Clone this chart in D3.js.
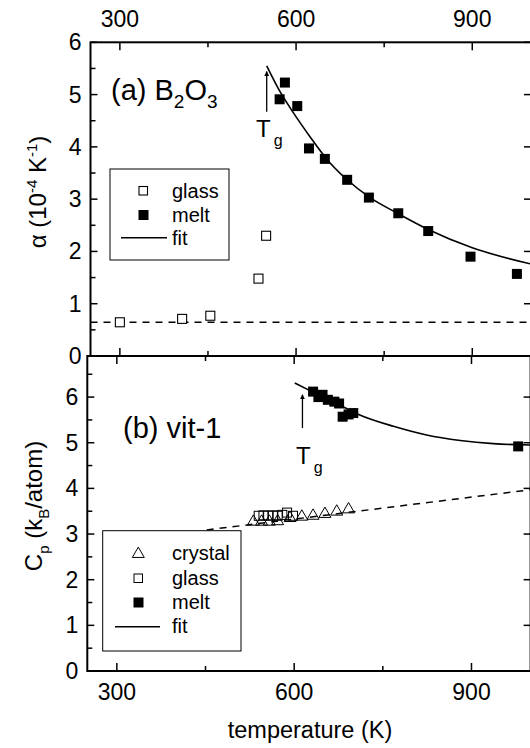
<!DOCTYPE html>
<html>
<head>
<meta charset="utf-8">
<script src="https://cdn.jsdelivr.net/npm/d3@7"></script>
<style>
  body { margin: 0; background: #fff; }
  svg { font-family: "Liberation Sans", Arial, sans-serif; }
</style>
</head>
<body>
<div id="chart"></div>
<script>
// Data (temperature in K)
var tempMajor = [300, 600, 900];
var tempMinor = [450, 750];
var alphaTicks = [0, 1, 2, 3, 4, 5, 6];
var alphaMinor = [0.5, 1.5, 2.5, 3.5, 4.5, 5.5];
var cpTicks = [0, 1, 2, 3, 4, 5, 6];
var cpMinor = [0.5, 1.5, 2.5, 3.5, 4.5, 5.5, 6.5];

// (a) B2O3, alpha in 1e-4 1/K
var b2o3Glass = [[300, 0.645], [406, 0.71], [454, 0.77], [536, 1.48], [549, 2.30]];
var b2o3Melt = [[572, 4.91], [581, 5.23], [602, 4.78], [622, 3.97], [649, 3.77], [687, 3.37],
                [724, 3.03], [774, 2.73], [825, 2.39], [897, 1.90], [976, 1.57]];
var b2o3Fit = [[550, 5.55], [573, 5.05], [595, 4.66], [624, 4.19], [652, 3.77], [686, 3.38],
               [726, 3.03], [771, 2.74], [825, 2.42], [900, 2.07], [1000, 1.76]];
var b2o3GlassLine = [[250, 0.645], [1000, 0.645]];
var b2o3Tg = [550, 4.67, 5.44];

// (b) vit-1, Cp in kB/atom
var vitCrystal = [[531, 3.27], [545, 3.27], [558, 3.27], [572, 3.28], [593, 3.35], [613, 3.38],
                  [632, 3.40], [652, 3.44], [672, 3.49], [692, 3.54]];
var vitGlass = [[540, 3.40], [548, 3.41], [556, 3.40], [564, 3.41], [572, 3.40], [580, 3.42],
                [588, 3.47], [598, 3.40]];
var vitMelt = [[632, 6.12], [641, 6.00], [648, 6.05], [657, 5.94], [668, 5.90], [676, 5.86],
               [682, 5.57], [692, 5.62], [700, 5.65], [979, 4.92]];
var vitFit = [[601, 6.31], [630, 6.12], [660, 5.93], [685, 5.77], [709, 5.62], [768, 5.36],
              [824, 5.17], [881, 5.05], [937, 4.98], [1000, 4.95]];
var vitCrystalLine = [[452, 3.09], [1000, 3.97]];
var vitTg = [614, 5.32, 6.05];

var W = 530, H = 748;

function draw() {
    var svg = d3.select("#chart").append("svg")
        .attr("width", W)
        .attr("height", H);

    var defs = svg.append("defs");
    defs.append("marker")
        .attr("id", "arrow")
        .attr("viewBox", "0 0 10 10")
        .attr("refX", 9).attr("refY", 5)
        .attr("markerWidth", 5).attr("markerHeight", 7)
        .attr("markerUnits", "userSpaceOnUse")
        .attr("orient", "auto")
        .append("path")
        .attr("d", "M0,0 L10,5 L0,10 Z")
        .attr("fill", "#000");

    // Scales
    var xa = d3.scaleLinear().domain([250, 1000]).range([90.5, 531]);
    var ya = d3.scaleLinear().domain([0, 6]).range([356, 42.3]);
    var xb = d3.scaleLinear().domain([250, 1000]).range([87.3, 530.6]);
    var yb = d3.scaleLinear().domain([0, 6.9]).range([671, 356]);

    // Panel (a)
    var pa = svg.append("g");
    panelFrame(pa, xa, ya, alphaTicks, alphaMinor);

    pa.append("path")
        .datum(b2o3GlassLine)
        .attr("d", d3.line().x(function (d) { return xa(d[0]); }).y(function (d) { return ya(d[1]); }))
        .attr("fill", "none").attr("stroke", "#000").attr("stroke-width", 1.5)
        .attr("stroke-dasharray", "7,6");

    pa.append("path")
        .datum(b2o3Fit)
        .attr("d", d3.line().curve(d3.curveMonotoneX)
            .x(function (d) { return xa(d[0]); }).y(function (d) { return ya(d[1]); }))
        .attr("fill", "none").attr("stroke", "#000").attr("stroke-width", 1.6);

    pa.selectAll("rect.glass").data(b2o3Glass).enter().append("rect")
        .attr("x", function (d) { return xa(d[0]) - 4.5; })
        .attr("y", function (d) { return ya(d[1]) - 4.5; })
        .attr("width", 9).attr("height", 9)
        .attr("fill", "#fff").attr("stroke", "#000").attr("stroke-width", 1.1);

    pa.selectAll("rect.melt").data(b2o3Melt).enter().append("rect")
        .attr("x", function (d) { return xa(d[0]) - 5; })
        .attr("y", function (d) { return ya(d[1]) - 5; })
        .attr("width", 10).attr("height", 10)
        .attr("fill", "#000");

    tgArrow(pa, xa(b2o3Tg[0]), ya(b2o3Tg[1]), ya(b2o3Tg[2]), 256, 137);

    var la = pa.append("text").attr("x", 111).attr("y", 100).attr("font-size", 29);
    la.append("tspan").text("(a) B");
    la.append("tspan").attr("dy", 8).attr("font-size", 19).text("2");
    la.append("tspan").attr("dy", -8).text("O");
    la.append("tspan").attr("dy", 8).attr("font-size", 19).text("3");

    // legend (a)
    var lga = pa.append("g");
    lga.append("rect").attr("x", 110).attr("y", 169).attr("width", 119).attr("height", 91)
        .attr("fill", "#fff").attr("stroke", "#000").attr("stroke-width", 1);
    lga.append("rect").attr("x", 139).attr("y", 186.5).attr("width", 8.5).attr("height", 8.5)
        .attr("fill", "#fff").attr("stroke", "#000").attr("stroke-width", 1.1);
    lga.append("rect").attr("x", 138.5).attr("y", 210).attr("width", 10).attr("height", 10)
        .attr("fill", "#000");
    lga.append("line").attr("x1", 121).attr("x2", 167).attr("y1", 237.7).attr("y2", 237.7)
        .attr("stroke", "#000").attr("stroke-width", 1.6);
    legendText(lga, ["glass", "melt", "fit"], 172, [198, 222, 245]);

    // Panel (b)
    var pb = svg.append("g");
    panelFrame(pb, xb, yb, cpTicks, cpMinor);

    pb.append("path")
        .datum(vitCrystalLine)
        .attr("d", d3.line().x(function (d) { return xb(d[0]); }).y(function (d) { return yb(d[1]); }))
        .attr("fill", "none").attr("stroke", "#000").attr("stroke-width", 1.5)
        .attr("stroke-dasharray", "7,6");

    pb.append("path")
        .datum(vitFit)
        .attr("d", d3.line().curve(d3.curveMonotoneX)
            .x(function (d) { return xb(d[0]); }).y(function (d) { return yb(d[1]); }))
        .attr("fill", "none").attr("stroke", "#000").attr("stroke-width", 1.6);

    var tri = d3.symbol().type(d3.symbolTriangle).size(62);
    pb.selectAll("path.crystal").data(vitCrystal).enter().append("path")
        .attr("d", tri)
        .attr("transform", function (d) { return "translate(" + xb(d[0]) + "," + yb(d[1]) + ")"; })
        .attr("fill", "none").attr("stroke", "#000").attr("stroke-width", 1);

    pb.selectAll("rect.glass").data(vitGlass).enter().append("rect")
        .attr("x", function (d) { return xb(d[0]) - 4.5; })
        .attr("y", function (d) { return yb(d[1]) - 4.5; })
        .attr("width", 9).attr("height", 9)
        .attr("fill", "none").attr("stroke", "#000").attr("stroke-width", 1);

    pb.selectAll("rect.melt").data(vitMelt).enter().append("rect")
        .attr("x", function (d) { return xb(d[0]) - 5; })
        .attr("y", function (d) { return yb(d[1]) - 5; })
        .attr("width", 10).attr("height", 10)
        .attr("fill", "#000");

    tgArrow(pb, xb(vitTg[0]), yb(vitTg[1]), yb(vitTg[2]), 296, 464);

    pb.append("text").attr("x", 123).attr("y", 438).attr("font-size", 29).text("(b) vit-1");

    // legend (b)
    var lgb = pb.append("g");
    lgb.append("rect").attr("x", 102.7).attr("y", 530.7).attr("width", 138.3).attr("height", 120.3)
        .attr("fill", "#fff").attr("stroke", "#000").attr("stroke-width", 1);
    lgb.append("path").attr("d", tri)
        .attr("transform", "translate(138.3,554)")
        .attr("fill", "none").attr("stroke", "#000").attr("stroke-width", 1);
    lgb.append("rect").attr("x", 134).attr("y", 574).attr("width", 8.5).attr("height", 8.5)
        .attr("fill", "none").attr("stroke", "#000").attr("stroke-width", 1);
    lgb.append("rect").attr("x", 133.5).attr("y", 597.5).attr("width", 10).attr("height", 10)
        .attr("fill", "#000");
    lgb.append("line").attr("x1", 115).attr("x2", 160).attr("y1", 626.7).attr("y2", 626.7)
        .attr("stroke", "#000").attr("stroke-width", 1.6);
    legendText(lgb, ["crystal", "glass", "melt", "fit"], 172, [560, 585, 609, 633]);

    // Top axis labels (panel a)
    svg.selectAll("text.topx").data(tempMajor).enter().append("text")
        .attr("x", function (d) { return xa(d); })
        .attr("y", 27)
        .attr("text-anchor", "middle").attr("font-size", 23)
        .text(function (d) { return d; });

    // Bottom axis labels (panel b)
    svg.selectAll("text.botx").data(tempMajor).enter().append("text")
        .attr("x", function (d) { return xb(d); })
        .attr("y", 700)
        .attr("text-anchor", "middle").attr("font-size", 23)
        .text(function (d) { return d; });

    svg.append("text")
        .attr("x", 310).attr("y", 738)
        .attr("text-anchor", "middle").attr("font-size", 23.5)
        .text("temperature (K)");

    // Y axis titles
    var ta = svg.append("text")
        .attr("transform", "translate(46,192) rotate(-90)")
        .attr("text-anchor", "middle").attr("font-size", 24);
    ta.append("tspan").text("\u03b1 (10");
    ta.append("tspan").attr("dy", -9).attr("font-size", 15).text("-4");
    ta.append("tspan").attr("dy", 9).text(" K");
    ta.append("tspan").attr("dy", -9).attr("font-size", 15).text("-1");
    ta.append("tspan").attr("dy", 9).text(")");

    var tb = svg.append("text")
        .attr("transform", "translate(42,506) rotate(-90)")
        .attr("text-anchor", "middle").attr("font-size", 24);
    tb.append("tspan").text("C");
    tb.append("tspan").attr("dy", 7).attr("font-size", 15).text("p");
    tb.append("tspan").attr("dy", -7).text(" (k");
    tb.append("tspan").attr("dy", 7).attr("font-size", 15).text("B");
    tb.append("tspan").attr("dy", -7).text("/atom)");

    // Frame and tick helpers
    function panelFrame(g, x, y, major, minor) {
        var x0 = x.range()[0], x1 = x.range()[1];
        var y0 = y.range()[0], y1 = y.range()[1];
        var allX = tempMajor.map(function (d) { return { v: d, len: 8 }; })
            .concat(tempMinor.map(function (d) { return { v: d, len: 5 }; }));

        // ticks on bottom (up) and top (down)
        g.selectAll("line.xb").data(allX).enter().append("line")
            .attr("x1", function (d) { return x(d.v); }).attr("x2", function (d) { return x(d.v); })
            .attr("y1", y0).attr("y2", function (d) { return y0 - d.len; })
            .attr("stroke", "#000").attr("stroke-width", 1.5);
        g.selectAll("line.xt").data(allX).enter().append("line")
            .attr("x1", function (d) { return x(d.v); }).attr("x2", function (d) { return x(d.v); })
            .attr("y1", y1).attr("y2", function (d) { return y1 + d.len; })
            .attr("stroke", "#000").attr("stroke-width", 1.5);

        // left ticks
        var leftT = major.map(function (d) { return { v: d, len: 7 }; })
            .concat(minor.map(function (d) { return { v: d, len: 5 }; }));
        g.selectAll("line.yl").data(leftT).enter().append("line")
            .attr("x1", x0).attr("x2", function (d) { return x0 + d.len; })
            .attr("y1", function (d) { return y(d.v); }).attr("y2", function (d) { return y(d.v); })
            .attr("stroke", "#000").attr("stroke-width", 1.5);
        // right ticks
        g.selectAll("line.yr").data(major).enter().append("line")
            .attr("x1", x1).attr("x2", x1 - 7)
            .attr("y1", function (d) { return y(d); }).attr("y2", function (d) { return y(d); })
            .attr("stroke", "#000").attr("stroke-width", 1.5);

        g.selectAll("text.yl").data(major).enter().append("text")
            .attr("x", x0 - 9)
            .attr("y", function (d) { return y(d) + 8; })
            .attr("text-anchor", "end").attr("font-size", 23)
            .text(function (d) { return d; });

        g.append("rect")
            .attr("x", x0).attr("y", y1)
            .attr("width", x1 - x0).attr("height", y0 - y1)
            .attr("fill", "none").attr("stroke", "#000").attr("stroke-width", 2);
    }

    function tgArrow(g, x, yFrom, yTo, tx, ty) {
        g.append("line")
            .attr("x1", x).attr("x2", x).attr("y1", yFrom).attr("y2", yTo)
            .attr("stroke", "#000").attr("stroke-width", 1.3)
            .attr("marker-end", "url(#arrow)");
        var t = g.append("text").attr("x", tx).attr("y", ty).attr("font-size", 24);
        t.append("tspan").text("T");
        t.append("tspan").attr("dy", 9).attr("dx", 3).attr("font-size", 16).text("g");
    }

    function legendText(g, labels, x, ys) {
        g.selectAll("text.lg").data(labels).enter().append("text")
            .attr("x", x)
            .attr("y", function (d, i) { return ys[i]; })
            .attr("font-size", 20)
            .text(function (d) { return d; });
    }
}

draw();
</script>
</body>
</html>
